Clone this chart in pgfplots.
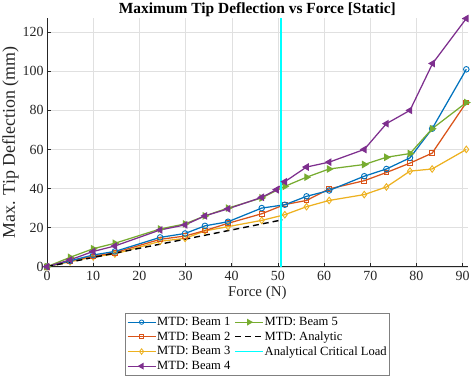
\documentclass[border=0pt]{standalone}
\usepackage{pgfplots}
\pgfplotsset{compat=1.18}
\usepackage{fontspec}
\setmainfont{Liberation Serif}
\definecolor{mblue}{rgb}{0,0.447,0.741}
\definecolor{morange}{rgb}{0.850,0.325,0.098}
\definecolor{myellow}{rgb}{0.929,0.694,0.125}
\definecolor{mpurple}{rgb}{0.494,0.184,0.556}
\definecolor{mgreen}{rgb}{0.466,0.674,0.188}
\definecolor{mcyan}{rgb}{0,1,1}
\definecolor{mtext}{rgb}{0.15,0.15,0.15}
\begin{document}
\begin{tikzpicture}
\begin{axis}[
  name=ax,
  scale only axis,
  width=420.7bp, height=248.2bp,
  xmin=0, xmax=91.1, ymin=0, ymax=127,
  xtick={0,10,...,90}, ytick={0,20,...,120},
  axis x line*=bottom, axis y line*=left,
  axis line style={draw=mtext, line width=0.5pt},
  tick align=inside, tick style={draw=mtext, line width=0.5pt},
  major tick length=4bp,
  grid=major, grid style={draw=black!12, line width=0.4pt},
  /pgf/number format/assume math mode=true,
  tick label style={font=\fontsize{14}{16}\selectfont, text=mtext},
  xticklabel style={yshift=-1bp},
  xlabel={Force (N)}, ylabel={Max. Tip Deflection (mm)},
  xlabel style={font=\fontsize{15}{17}\selectfont, text=mtext, yshift=1.5bp},
  ylabel style={font=\fontsize{18}{20}\selectfont, text=mtext, yshift=-3bp},
  title={Maximum Tip Deflection vs Force [Static]},
  title style={font=\fontsize{15.5}{17}\selectfont\bfseries, yshift=-8bp},
  legend columns=2,
  legend cell align=left,
  legend style={at={(0.5,-0.1866)}, anchor=north, font=\fontsize{12.6}{14}\selectfont,
    draw=black!50, line width=0.5pt, inner xsep=1.5bp, inner ysep=2.5bp,
    row sep=1.6bp, column sep=0bp,
    nodes={inner xsep=1bp, inner ysep=1.5bp},
    /tikz/every even column/.append style={column sep=3bp}},
  legend image code/.code={\draw[mark repeat=2,mark phase=2] plot coordinates {(0bp,0bp) (14bp,0bp) (28bp,0bp)};},
  every axis plot/.append style={line width=1.25pt, mark size=2.3pt},
]
% Beam 3 (yellow diamonds)
\addplot[color=myellow, mark=diamond, mark options={solid, line width=0.9pt, mark size=3.3pt}, forget plot] coordinates {
(0,0) (5,2.5) (10,5) (14.7,6.5) (24.5,13) (29.9,14.5) (34.2,18.3) (39.2,20.5) (46.5,23.7) (51.5,26.6) (56.2,30.7) (61.1,33.9) (68.7,36.9) (73.5,40.8) (78.6,48.9) (83.4,50) (90.8,60)};
% Beam 2 (orange squares)
\addplot[color=morange, mark=square, mark options={solid, line width=0.9pt, mark size=2.4pt}, forget plot] coordinates {
(0,0) (5,3) (10,5.3) (14.7,7.2) (24.5,14) (29.9,15.7) (34.2,18.5) (39.2,22.2) (46.5,27.1) (51.5,31.8) (56.2,33.9) (61.1,39.8) (68.7,44) (73.5,48.2) (78.6,53) (83.4,58.1) (90.8,84)};
% Beam 1 (blue circles)
\addplot[color=mblue, mark=o, mark options={solid, line width=0.9pt, mark size=2.8pt}, forget plot] coordinates {
(0,0) (5,3) (10,6) (14.7,7.8) (24.5,15) (29.9,17) (34.2,20.9) (39.2,23) (46.5,30) (51.5,31.7) (56.2,36) (61.1,39) (68.7,46.3) (73.5,50) (78.6,55.7) (83.4,70.6) (90.8,101)};
% Beam 5 (green right triangles)
\addplot[color=mgreen, mark=triangle*, mark options={solid, rotate=-90, mark size=3.3pt}, forget plot] coordinates {
(0,0) (5,4.8) (10,9.2) (14.7,12) (24.5,19.3) (29.9,21.9) (34.2,26) (39.2,30) (46.5,35.2) (51.5,41.1) (56.2,45.8) (61.1,50) (68.7,52.3) (73.5,56) (78.6,57.9) (83.4,70.6) (90.8,84)};
% Beam 4 (purple left triangles)
\addplot[color=mpurple, mark=triangle*, mark options={solid, rotate=90, mark size=3.3pt}, forget plot] coordinates {
(0,0) (5,3.5) (10,7.8) (14.7,10.6) (24.5,18.8) (29.9,21.4) (34.2,26) (39.2,29.6) (46.5,35.5) (49.7,39.4) (51.5,43.5) (56.2,51) (61.1,53.5) (68.7,60) (73.5,73.2) (78.6,80) (83.5,104) (90.8,127)};
% Analytic
\addplot[color=black, line width=1.4pt, dash pattern=on 6bp off 4bp, forget plot] coordinates {(0,0) (51,24)};
% Critical load
\addplot[color=mcyan, line width=1.4pt, forget plot] coordinates {(50.7,0) (50.7,127)};

\addlegendimage{color=mblue, line width=1.2pt, mark=o, mark size=2.2pt, mark options={solid, line width=0.8pt}}
\addlegendentry{MTD: Beam 1}
\addlegendimage{color=mgreen, line width=1.2pt, mark=triangle*, mark size=2.8pt, mark options={solid, rotate=-90}}
\addlegendentry{MTD: Beam 5}
\addlegendimage{color=morange, line width=1.2pt, mark=square, mark size=2pt, mark options={solid, line width=0.8pt}}
\addlegendentry{MTD: Beam 2}
\addlegendimage{color=black, line width=1.3pt, dash pattern=on 6bp off 4bp}
\addlegendentry{MTD: Analytic}
\addlegendimage{color=myellow, line width=1.2pt, mark=diamond, mark size=2.8pt, mark options={solid, line width=0.8pt}}
\addlegendentry{MTD: Beam 3}
\addlegendimage{color=mcyan, line width=1.3pt}
\addlegendentry{Analytical Critical Load}
\addlegendimage{color=mpurple, line width=1.2pt, mark=triangle*, mark size=2.8pt, mark options={solid, rotate=90}}
\addlegendentry{MTD: Beam 4}
\end{axis}
\pgfresetboundingbox
\path ([xshift=-47bp,yshift=-115.3bp]ax.south west) rectangle ([xshift=8.3bp,yshift=18.5bp]ax.north east);
\end{tikzpicture}
\end{document}
